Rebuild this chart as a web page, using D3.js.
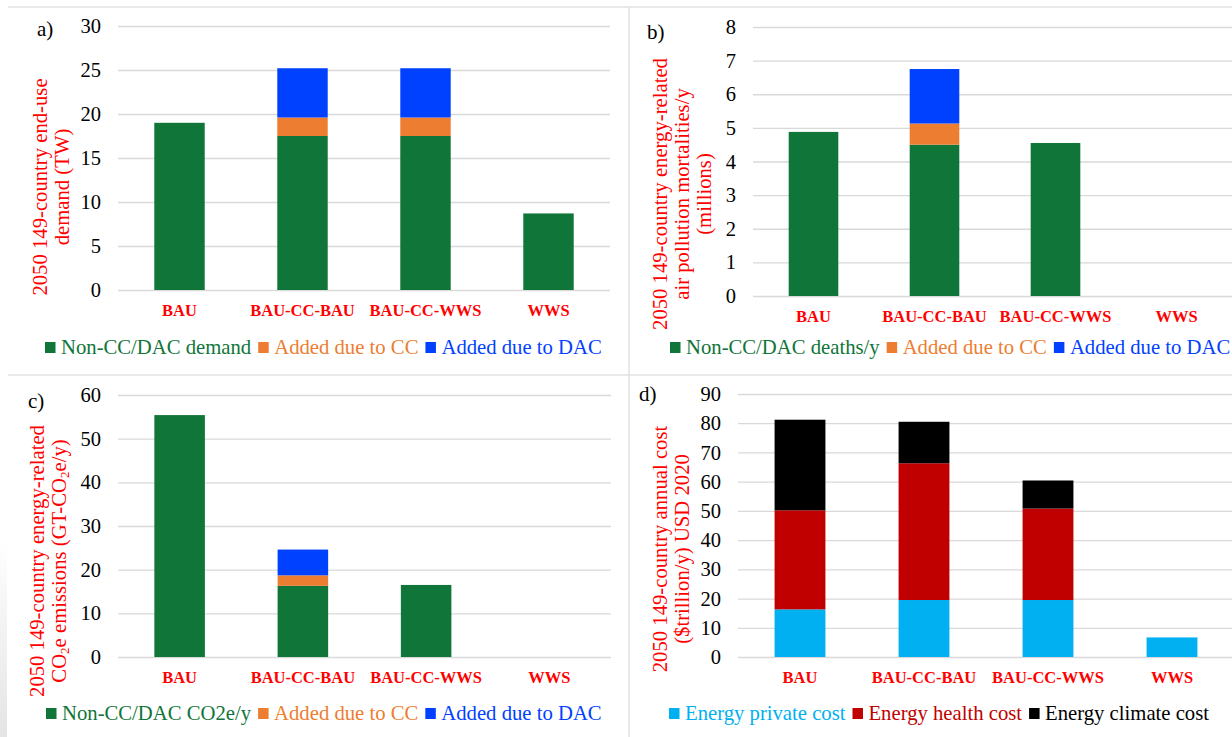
<!DOCTYPE html>
<html>
<head>
<meta charset="utf-8">
<script src="https://cdn.jsdelivr.net/npm/d3@7"></script>
<style>
  html, body { margin: 0; padding: 0; background: #ffffff; }
  svg { display: block; }
</style>
</head>
<body>
<script>
// ---------------- DATA ----------------
const categories = ["BAU", "BAU-CC-BAU", "BAU-CC-WWS", "WWS"];

// a) 2050 end-use demand (TW)
const demandNonCC = [19.0, 17.5, 17.5, 8.7];
const demandCC    = [0, 2.1, 2.1, 0];
const demandDAC   = [0, 5.6, 5.6, 0];
const ticksA = [0, 5, 10, 15, 20, 25, 30];

// b) air pollution mortalities (millions/y)
const deathsNonCC = [4.88, 4.5, 4.55, 0];
const deathsCC    = [0, 0.63, 0, 0];
const deathsDAC   = [0, 1.62, 0, 0];
const ticksB = [0, 1, 2, 3, 4, 5, 6, 7, 8];

// c) CO2e emissions (GT-CO2e/y)
const co2NonCC = [55.4, 16.3, 16.5, 0];
const co2CC    = [0, 2.4, 0, 0];
const co2DAC   = [0, 5.9, 0, 0];
const ticksC = [0, 10, 20, 30, 40, 50, 60];

// d) annual cost ($trillion/y)
const costPrivate = [16.3, 19.5, 19.5, 6.7];
const costHealth  = [33.9, 46.8, 31.3, 0];
const costClimate = [31.0, 14.2, 9.6, 0];
const ticksD = [0, 10, 20, 30, 40, 50, 60, 70, 80, 90];

// ---------------- STYLE ----------------
const FONT = '"Liberation Serif", "Times New Roman", Times, serif';
const GREEN = "#107539", ORANGE = "#ED7D31", BLUE = "#0041FF";
const CYAN = "#00B0F0", RED = "#C00000", BLACK = "#000000";
const AXIS_RED = "#FF0000";

const svg = d3.select("body").append("svg")
  .attr("width", 1232).attr("height", 737)
  .style("font-family", FONT);

// left-edge shading (bottom-left)
const defs = svg.append("defs");
const grad = defs.append("linearGradient").attr("id", "edge").attr("x1", 0).attr("y1", 0).attr("x2", 0).attr("y2", 1);
grad.append("stop").attr("offset", "0%").attr("stop-color", "#ffffff");
grad.append("stop").attr("offset", "100%").attr("stop-color", "#e4e4e4");
svg.append("rect").attr("x", 0).attr("y", 540).attr("width", 7).attr("height", 197).attr("fill", "url(#edge)");

// separator lines
svg.append("line").attr("x1", 8).attr("x2", 1232).attr("y1", 7).attr("y2", 7).attr("stroke", "#e2e2e2").attr("stroke-width", 1.5);
svg.append("line").attr("x1", 8).attr("x2", 1232).attr("y1", 375).attr("y2", 375).attr("stroke", "#e2e2e2").attr("stroke-width", 1.5);
svg.append("line").attr("x1", 629).attr("x2", 629).attr("y1", 7).attr("y2", 737).attr("stroke", "#e2e2e2").attr("stroke-width", 1.5);

function drawPanel(cfg) {
  const g = svg.append("g").style("font-family", FONT);
  const x = d3.scaleBand().domain(categories)
    .range([cfg.x0, cfg.x1]).paddingInner(0.59).paddingOuter(0.295);
  const y = d3.scaleLinear().domain([0, d3.max(cfg.ticks)])
    .range([cfg.yBottom, cfg.yTop]);

  // y axis with gridlines
  const ya = g.append("g").attr("transform", `translate(${cfg.x0},0)`)
    .call(d3.axisLeft(y).tickValues(cfg.ticks).tickSize(-(cfg.x1 - cfg.x0))
      .tickPadding(17).tickFormat(d3.format("d")));
  ya.attr("font-family", null).attr("font-size", null);
  ya.select(".domain").remove();
  ya.selectAll(".tick line").attr("stroke", "#d9d9d9").attr("stroke-width", 1.3);
  ya.selectAll(".tick text").attr("fill", "#000")
    .style("font-size", "20.5px").style("font-family", FONT);

  // stacked bars
  const rows = categories.map((c, i) => {
    const r = { cat: c };
    cfg.series.forEach(s => { r[s.key] = s.values[i]; });
    return r;
  });
  const stacked = d3.stack().keys(cfg.series.map(s => s.key))(rows);
  stacked.forEach((layer, li) => {
    g.append("g").attr("fill", cfg.series[li].color)
      .selectAll("rect").data(layer.filter(d => d[1] - d[0] > 0)).join("rect")
      .attr("x", d => x(d.data.cat))
      .attr("width", x.bandwidth())
      .attr("y", d => y(d[1]))
      .attr("height", d => y(d[0]) - y(d[1]));
  });

  // category axis
  const xa = g.append("g").attr("transform", `translate(0,${cfg.yBottom})`)
    .call(d3.axisBottom(x).tickSize(0));
  xa.attr("font-family", null).attr("font-size", null);
  xa.select(".domain").remove();
  xa.selectAll(".tick text").attr("y", 26).attr("dy", 0)
    .attr("fill", AXIS_RED).style("font-size", "16.5px")
    .style("font-weight", "bold").style("font-family", FONT);

  // y title
  const t = g.append("g").attr("fill", AXIS_RED);
  cfg.title.forEach((line, i) => {
    const tx = t.append("text")
      .attr("transform", `translate(${cfg.titleX[i]},${cfg.titleY}) rotate(-90)`)
      .attr("text-anchor", "middle")
      .style("font-family", FONT).style("font-size", "20.7px");
    line.forEach(part => {
      const ts = tx.append("tspan").text(part.t);
      if (part.sub) ts.style("font-size", "13px").attr("dy", 3);
      if (part.after) ts.attr("dy", -3);
    });
  });

  // panel label
  g.append("text").attr("x", cfg.labelX).attr("y", cfg.labelY)
    .style("font-family", FONT).style("font-size", "21px")
    .attr("fill", "#000").text(cfg.label);

  // legend
  const lg = g.append("g");
  let cx = cfg.legendX;
  cfg.series.forEach(s => {
    lg.append("rect").attr("x", cx).attr("y", cfg.legendY - 12)
      .attr("width", 10.5).attr("height", 11).attr("fill", s.color);
    const tt = lg.append("text").attr("x", cx + 16).attr("y", cfg.legendY)
      .style("font-family", FONT).style("font-size", "20.7px")
      .attr("fill", s.textColor || s.color).text(s.key);
    cx += 16 + tt.node().getComputedTextLength() + 7;
  });
}

drawPanel({
  x0: 118, x1: 610, yTop: 26, yBottom: 290, ticks: ticksA,
  series: [
    { key: "Non-CC/DAC demand", values: demandNonCC, color: GREEN },
    { key: "Added due to CC", values: demandCC, color: ORANGE },
    { key: "Added due to DAC", values: demandDAC, color: BLUE }
  ],
  title: [[{ t: "2050 149-country end-use" }], [{ t: "demand (TW)" }]],
  titleX: [47, 69], titleY: 187,
  label: "a)", labelX: 37, labelY: 36,
  legendX: 45, legendY: 354
});

drawPanel({
  x0: 753, x1: 1237, yTop: 27, yBottom: 296, ticks: ticksB,
  series: [
    { key: "Non-CC/DAC deaths/y", values: deathsNonCC, color: GREEN },
    { key: "Added due to CC", values: deathsCC, color: ORANGE },
    { key: "Added due to DAC", values: deathsDAC, color: BLUE }
  ],
  title: [[{ t: "2050 149-country energy-related" }], [{ t: "air pollution mortalities/y" }], [{ t: "(millions)" }]],
  titleX: [667, 689, 711], titleY: 194,
  label: "b)", labelX: 647, labelY: 39,
  legendX: 670, legendY: 354
});

drawPanel({
  x0: 118, x1: 611, yTop: 395, yBottom: 657, ticks: ticksC,
  series: [
    { key: "Non-CC/DAC CO2e/y", values: co2NonCC, color: GREEN },
    { key: "Added due to CC", values: co2CC, color: ORANGE },
    { key: "Added due to DAC", values: co2DAC, color: BLUE }
  ],
  title: [[{ t: "2050 149-country energy-related" }],
          [{ t: "CO" }, { t: "2", sub: true }, { t: "e emissions (GT-CO", after: true }, { t: "2", sub: true }, { t: "e/y)", after: true }]],
  titleX: [44, 66], titleY: 561,
  label: "c)", labelX: 28, labelY: 408,
  legendX: 46, legendY: 720
});

drawPanel({
  x0: 738, x1: 1234, yTop: 394, yBottom: 657, ticks: ticksD,
  series: [
    { key: "Energy private cost", values: costPrivate, color: CYAN },
    { key: "Energy health cost", values: costHealth, color: RED },
    { key: "Energy climate cost", values: costClimate, color: BLACK }
  ],
  title: [[{ t: "2050 149-country annual cost" }], [{ t: "($trillion/y) USD 2020" }]],
  titleX: [667, 689], titleY: 549,
  label: "d)", labelX: 639, labelY: 401,
  legendX: 669, legendY: 720
});
</script>
</body>
</html>
